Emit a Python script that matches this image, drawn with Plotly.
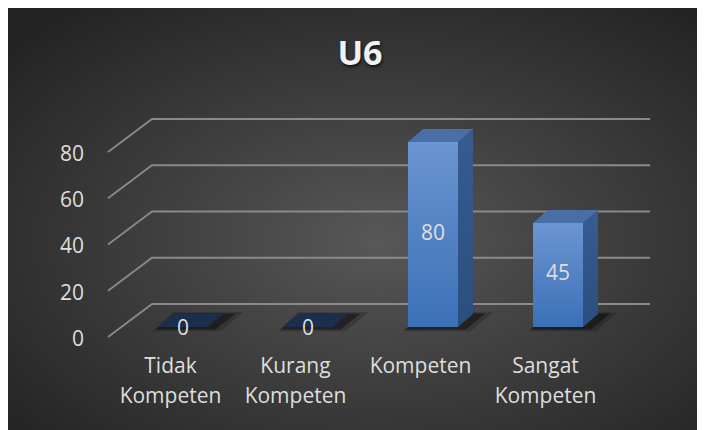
import base64
import struct
import zlib

import numpy as np
import plotly.graph_objects as go

# ---------------- data ----------------
categories = [["Tidak", "Kompeten"], ["Kurang", "Kompeten"], ["Kompeten"], ["Sangat", "Kompeten"]]
values = [0, 0, 80, 45]
y_ticks = [0, 20, 40, 60, 80]
chart_title = "U6"

# ---------------- geometry / style ----------------
W, H = 697, 423
X_RANGE = [-1.4, 4.176]
Y_RANGE = [-44.97, 137.95]
HALF = 0.2          # half bar width (category units)
DX, DY = 0.12, 5.6  # bar depth offset (x units, y units)
WALL_FRONT_X = -0.6
WALL_BACK_X = -0.248
WALL_RIGHT_X = 3.736
WALL_FRONT_DY = -4.32
WALL_BACK_DY = 9.95
FONT = "Open Sans"
TXT = "#dedede"
FS = 21


def gradient_png(w, h):
    yy, xx = np.mgrid[0:h, 0:w].astype(float)
    cx, cy = 0.53 * w, 0.55 * h
    r = np.sqrt(((xx - cx) / (w / 2)) ** 2 + ((yy - cy) / (h / 2)) ** 2) / np.sqrt(2)
    r = np.clip(r, 0, 1)
    c = 0x58 + (0x23 - 0x58) * r ** 0.95
    img = np.repeat(c[:, :, None], 3, axis=2).round().astype(np.uint8)
    raw = b"".join(b"\x00" + row.tobytes() for row in img)

    def chunk(t, d):
        return struct.pack(">I", len(d)) + t + d + struct.pack(">I", zlib.crc32(t + d) & 0xFFFFFFFF)

    png = (b"\x89PNG\r\n\x1a\n" + chunk(b"IHDR", struct.pack(">IIBBBBB", w, h, 8, 2, 0, 0, 0))
           + chunk(b"IDAT", zlib.compress(raw, 9)) + chunk(b"IEND", b""))
    return "data:image/png;base64," + base64.b64encode(png).decode()


fig = go.Figure()


def poly(xs, ys, **kw):
    fig.add_trace(go.Scatter(x=list(xs) + [xs[0]], y=list(ys) + [ys[0]], mode="lines",
                             fill="toself", line=dict(width=0, color="rgba(0,0,0,0)"),
                             hoverinfo="skip", **kw))


# gridlines (side wall + back wall)
gx, gy = [], []
for v in y_ticks:
    gx += [WALL_FRONT_X, WALL_BACK_X, WALL_RIGHT_X, None]
    gy += [v + WALL_FRONT_DY, v + WALL_BACK_DY, v + WALL_BACK_DY, None]
fig.add_trace(go.Scatter(x=gx, y=gy, mode="lines", line=dict(color="#8a8a8a", width=1.8),
                         hoverinfo="skip"))

# bars
for i, v in enumerate(values):
    xl, xr = i - HALF, i + HALF
    # soft shadow
    poly([xl - 0.04, xr + 0.1, xr + DX + 0.16, xl + DX + 0.0], [-1.8, -1.8, DY + 0.8, DY + 0.8],
         fillcolor="rgba(0,0,0,0.2)")
    poly([xl - 0.02, xr + 0.06, xr + DX + 0.1, xl + DX + 0.01], [-1.1, -1.1, DY + 0.2, DY + 0.2],
         fillcolor="rgba(0,0,0,0.4)")
    if v > 0:
        # front face
        poly([xl, xr, xr, xl], [0, 0, v, v],
             fillgradient=dict(type="vertical", colorscale=[[0, "#3b70b7"], [1, "#6b95d1"]],
                               start=0, stop=v))
        # side face
        poly([xr, xr + DX, xr + DX, xr], [0, DY, v + DY, v],
             fillgradient=dict(type="vertical", colorscale=[[0, "#2b4e80"], [1, "#375b8f"]],
                               start=0, stop=v))
        # top face
        poly([xl, xr, xr + DX, xl + DX], [v, v, v + DY, v + DY], fillcolor="#4a6ea6")
    else:
        poly([xl, xr, xr + DX, xl + DX], [v, v, v + DY, v + DY], fillcolor="#1b2f4d")

# data labels
fig.add_trace(go.Scatter(
    x=list(range(len(values))),
    y=[v / 2 if v > 0 else -1.3 for v in values],
    text=[str(v) for v in values], mode="text",
    textfont=dict(family=FONT, size=FS, color=TXT), hoverinfo="skip"))

# category labels (two lines)
fig.add_trace(go.Scatter(
    x=[i - 0.1 for i in range(len(categories))], y=[-17.7] * len(categories),
    text=[c[0] for c in categories], mode="text",
    textfont=dict(family=FONT, size=FS, color=TXT), hoverinfo="skip"))
fig.add_trace(go.Scatter(
    x=[i - 0.1 for i in range(len(categories))], y=[-30.7] * len(categories),
    text=[c[1] if len(c) > 1 else "" for c in categories], mode="text",
    textfont=dict(family=FONT, size=FS, color=TXT), hoverinfo="skip"))

# y tick labels
for v in y_ticks:
    fig.add_annotation(x=-0.776, y=v + WALL_FRONT_DY - 0.4, xref="x", yref="y", text=str(v),
                       showarrow=False, xanchor="right", yanchor="middle",
                       font=dict(family=FONT, size=FS, color=TXT))

fig.update_layout(
    width=W, height=H,
    margin=dict(l=0, r=0, t=0, b=0, pad=0),
    paper_bgcolor="#2b2b2b", plot_bgcolor="rgba(0,0,0,0)",
    showlegend=False, hovermode=False,
    title=dict(text="<b>" + chart_title + "</b>", x=0.505, y=0.894, xanchor="center", yanchor="middle",
               font=dict(family=FONT, size=34, color="#f2f2f2", shadow="1px 2px 3px #111")),
    xaxis=dict(range=X_RANGE, visible=False, fixedrange=True),
    yaxis=dict(range=Y_RANGE, visible=False, fixedrange=True),
    images=[dict(source=gradient_png(W, H), xref="paper", yref="paper", x=0, y=1,
                 sizex=1, sizey=1, sizing="stretch", xanchor="left", yanchor="top", layer="below")],
)

fig.write_html("out.html", config={"displayModeBar": False})
